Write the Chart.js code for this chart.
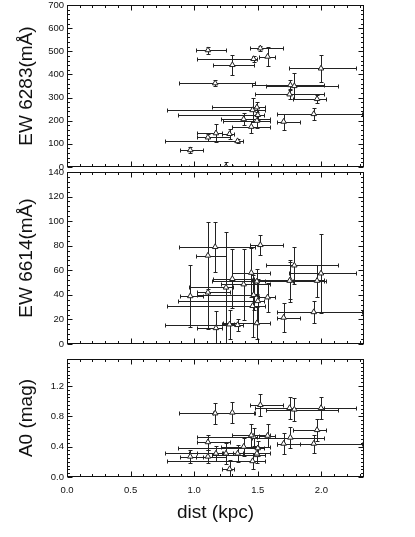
<!DOCTYPE html>
<html><head><meta charset="utf-8">
<script src="https://cdn.jsdelivr.net/npm/chart.js@4/dist/chart.umd.min.js"></script>
<style>
html,body{margin:0;padding:0;background:#fff;width:415px;height:537px;overflow:hidden}
canvas{position:absolute;left:0;top:0}
</style></head><body>
<canvas id="c1" width="415" height="537"></canvas>
<canvas id="c2" width="415" height="537"></canvas>
<canvas id="c3" width="415" height="537"></canvas>
<script>
// distance (kpc) with lower / upper bounds of the error bars
const dist   = [1.108,1.52,1.467,1.577,1.30,1.997,1.165,1.756,1.787,1.75,1.966,1.459,1.493,1.50,1.389,1.493,1.703,1.94,1.449,1.171,1.278,1.108,1.341,0.969,1.25];
const distLo = [1.013,1.44,1.02,1.51,1.147,1.743,0.884,1.454,1.565,1.48,1.774,0.79,1.139,0.87,1.213,1.223,1.65,1.65,1.30,1.02,1.22,1.02,0.772,0.89,0.963];
const distHi = [1.25,1.695,1.493,1.638,1.467,2.273,1.48,2.018,2.13,2.02,2.037,1.559,1.559,1.546,1.593,1.593,1.83,2.32,1.593,1.218,1.31,1.283,1.383,1.073,1.305];

const ew6283    = [505,513,467,477,441,426,362,354,350,314,294,246,258,225,207,200,196,229,174,146,143,128,112,73,1];
const ew6283Err = [15,12,12,41,43,57,12,23,56,22,17,50,22,20,27,30,34,25,25,40,22,15,7,12,22];

const ew6614    = [72,80.6,40,38,53,57.5,79,52,64,51.5,51.5,31,51,35,48.6,17,21.5,26,58,13,16,42,15.5,39,46];
const ew6614Err = [27,8,12,12,24,32,20,15,15,17,13,25,10,18,29,13,12,9,20,14,12,30,5,25,45];

const a0    = [0.27,0.95,0.53,0.545,0.85,0.91,0.84,0.52,0.89,0.91,0.62,0.21,0.29,0.38,0.40,0.31,0.44,0.44,0.55,0.31,0.105,0.46,0.31,0.27,0.31];
const a0Err = [0.09,0.15,0.12,0.15,0.14,0.15,0.14,0.14,0.15,0.15,0.15,0.11,0.10,0.10,0.12,0.10,0.14,0.12,0.15,0.10,0.12,0.10,0.11,0.09,0.14];

const xTicks      = [0.0,0.5,1.0,1.5,2.0];
const ew6283Ticks = [0,100,200,300,400,500,600,700];
const ew6614Ticks = [0,20,40,60,80,100,120,140];
const a0Ticks     = [0.0,0.4,0.8,1.2];

const FONT = "'Liberation Sans', Arial, Helvetica, sans-serif";
const INK = '#111';

const framePlugin = {
  id: 'frame',
  beforeDatasetsDraw(chart) {
    const o = chart.options.plugins.frame;
    const {ctx, chartArea: a} = chart;
    const x = chart.scales.x, y = chart.scales.y;
    ctx.save();
    ctx.beginPath(); ctx.rect(a.left, a.top, a.right - a.left, a.bottom - a.top); ctx.clip();
    ctx.strokeStyle = '#222'; ctx.lineWidth = 1;
    const cap = 2;
    const r = v => Math.round(v) + 0.5;
    o.vals.forEach((v, i) => {
      const px = r(x.getPixelForValue(dist[i]));
      const py = r(y.getPixelForValue(v));
      const x0 = r(x.getPixelForValue(distLo[i]));
      const x1 = r(x.getPixelForValue(distHi[i]));
      const y0 = r(y.getPixelForValue(v - o.errs[i]));
      const y1 = r(y.getPixelForValue(v + o.errs[i]));
      ctx.beginPath();
      ctx.moveTo(x0, py); ctx.lineTo(x1, py);
      ctx.moveTo(x0, py - cap); ctx.lineTo(x0, py + cap);
      ctx.moveTo(x1, py - cap); ctx.lineTo(x1, py + cap);
      ctx.moveTo(px, y0); ctx.lineTo(px, y1);
      ctx.moveTo(px - cap, y0); ctx.lineTo(px + cap, y0);
      ctx.moveTo(px - cap, y1); ctx.lineTo(px + cap, y1);
      ctx.stroke();
    });
    ctx.restore();
  },
  afterDraw(chart) {
    const o = chart.options.plugins.frame;
    const {ctx, chartArea: a} = chart;
    const x = chart.scales.x, y = chart.scales.y;
    ctx.save();
    ctx.strokeStyle = INK; ctx.lineWidth = 1;
    const L = Math.round(a.left) + 0.5, R = Math.round(a.right) - 0.5;
    const T = Math.round(a.top) + 0.5, B = Math.round(a.bottom) - 0.5;
    ctx.strokeRect(L, T, R - L, B - T);
    ctx.beginPath();
    // x ticks (major every 0.5, minor every 0.1)
    for (let k = 0; k <= 23; k++) {
      const v = k / 10;
      const px = Math.round(x.getPixelForValue(v)) + 0.5;
      if (px > R) break;
      const len = (k % 5 === 0) ? 5 : 2.5;
      ctx.moveTo(px, B); ctx.lineTo(px, B - len);
      ctx.moveTo(px, T); ctx.lineTo(px, T + len);
    }
    // y ticks
    const ymax = y.max;
    const n = Math.round(ymax / o.minor);
    for (let k = 0; k <= n; k++) {
      const v = k * o.minor;
      if (v > ymax + 1e-9) break;
      const py = Math.round(y.getPixelForValue(v)) + 0.5;
      const major = o.ticks.some(t => Math.abs(t - v) < 1e-6);
      const len = major ? 5 : 2.5;
      ctx.moveTo(L, py); ctx.lineTo(L + len, py);
      ctx.moveTo(R, py); ctx.lineTo(R - len, py);
    }
    ctx.stroke();
    ctx.restore();
  }
};

function makeChart(id, vals, errs, yTicks, yMin, yMax, minor, title, fmt, top, bottom, isBottom) {
  const yScale = {
    type: 'linear', min: yMin, max: yMax,
    afterBuildTicks: s => { s.ticks = yTicks.map(v => ({value: v})); },
    afterFit: s => { s.width = 67; s.paddingTop = 0; s.paddingBottom = 0; },
    grid: {display: false, drawTicks: false},
    border: {display: false},
    ticks: {padding: 3, color: INK, font: {family: FONT, size: 9.5}, callback: v => fmt(v)},
    title: {display: true, text: title, color: INK, font: {family: FONT, size: 19}, padding: {top: 15, bottom: 0}}
  };
  const xScale = {
    type: 'linear', min: 0, max: 2.335,
    display: isBottom,
    afterBuildTicks: s => { s.ticks = xTicks.map(v => ({value: v})); },
    afterFit: s => { if (isBottom) { s.height = 60; } s.paddingLeft = 0; s.paddingRight = 0; },
    grid: {display: false, drawTicks: false},
    border: {display: false},
    ticks: {padding: 8, color: INK, maxRotation: 0, font: {family: FONT, size: 9.5}, callback: v => v.toFixed(1)},
    title: {display: isBottom, text: 'dist (kpc)', color: INK, font: {family: FONT, size: 19}, padding: {top: 13, bottom: 13}}
  };
  return new Chart(document.getElementById(id), {
    type: 'scatter',
    data: {
      datasets: [{
        data: vals.map((v, i) => ({x: dist[i], y: v})),
        pointStyle: 'triangle', pointRadius: 3.2,
        backgroundColor: '#fff', borderColor: '#222', borderWidth: 1
      }]
    },
    options: {
      responsive: false, animation: false, devicePixelRatio: 1,
      layout: {padding: {left: 0, right: 51, top: top, bottom: isBottom ? 0 : 537 - bottom}},
      plugins: {legend: {display: false}, tooltip: {enabled: false},
        frame: {vals, errs, ticks: yTicks, minor}},
      scales: {x: xScale, y: yScale}
    },
    plugins: [framePlugin]
  });
}

makeChart('c1', ew6283, ew6283Err, ew6283Ticks, 0, 700, 20, 'EW 6283(mÅ)', v => String(v), 5, 167, false);
makeChart('c2', ew6614, ew6614Err, ew6614Ticks, 0, 140, 4, 'EW 6614(mÅ)', v => String(v), 172, 344, false);
makeChart('c3', a0, a0Err, a0Ticks, 0, 1.556, 0.05, 'A0 (mag)', v => v.toFixed(1), 359, 477, true);
</script>
</body></html>
